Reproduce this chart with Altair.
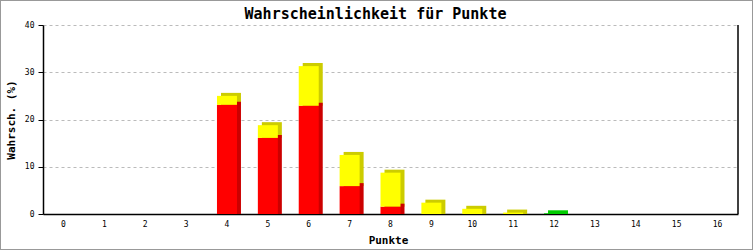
import altair as alt
import pandas as pd

# ---- data ----
punkte = [str(i) for i in range(17)]
rot = [0, 0, 0, 0, 23.1, 16.1, 22.9, 5.9, 1.55, 0, 0, 0, 0, 0, 0, 0, 0]
gelb = [0, 0, 0, 0, 1.9, 2.7, 8.4, 6.6, 7.2, 2.4, 1.1, 0.3, 0, 0, 0, 0, 0]
gruen = [0, 0, 0, 0, 0, 0, 0, 0, 0, 0, 0, 0, 0.15, 0, 0, 0, 0]
y_ticks = [0, 10, 20, 30, 40]
serien = ["rot", "gelb", "gruen"]

rows = []
for p, r, g, gr in zip(punkte, rot, gelb, gruen):
    base = 0.0
    for s, v in zip(serien, (r, g, gr)):
        if v > 0:
            rows.append({"Punkte": p, "serie": s, "start": base, "end": base + v})
            base += v
df = pd.DataFrame(rows)

W, H = 695, 189
FONT = "DejaVu Sans Mono"

x_enc = alt.X(
    "Punkte:O",
    sort=punkte,
    scale=alt.Scale(domain=punkte, paddingInner=0, paddingOuter=0),
    axis=alt.Axis(
        title="Punkte", ticks=False, labelAngle=0, labelPadding=6,
        titleX=345, titleY=26, titleBaseline="middle", titleAlign="center",
        domainColor="black", domainWidth=1.5,
    ),
)
y_enc = alt.Y(
    "end:Q",
    scale=alt.Scale(domain=[0, 40], nice=False),
    axis=alt.Axis(
        title="Wahrsch. (%)", values=y_ticks, grid=True, tickSize=5,
        labelPadding=4, titleX=-32, titleY=H / 2, titleAngle=-90,
        titleBaseline="middle", titleAlign="center",
        domainColor="black", domainWidth=1.5, tickColor="black",
    ),
)

base = alt.Chart(df)

# depth faces (drawn behind, shifted right/up); upper segments drawn first
back = base.mark_bar(width=20, xOffset=4, yOffset=-3).encode(
    x=x_enc,
    y=y_enc,
    y2="start:Q",
    order=alt.Order("start:Q", sort="descending"),
    color=alt.Color("serie:N", legend=None,
                    scale=alt.Scale(domain=serien, range=["#cc0000", "#cccc00", "#00cc00"])),
)

front = base.mark_bar(width=20).encode(
    x=x_enc,
    y=y_enc,
    y2="start:Q",
    color=alt.Color("serie:N", legend=None,
                    scale=alt.Scale(domain=serien, range=["#ff0000", "#ffff00", "#00cc00"])),
)

one = alt.Chart(pd.DataFrame({"a": [0]}))
right_line = one.mark_rule(color="black", strokeWidth=1.5).encode(
    x=alt.value(W), y=alt.value(0), y2=alt.value(H)
)
frame = one.mark_rect(filled=False, stroke="#999999", strokeWidth=2).encode(
    x=alt.value(-43), x2=alt.value(710), y=alt.value(-25), y2=alt.value(225)
)
title = one.mark_text(
    text="Wahrscheinlichkeit für Punkte", font=FONT, fontSize=15, fontWeight="bold",
    align="center", baseline="middle", color="black",
).encode(x=alt.value(332.5), y=alt.value(-11))

chart = (
    alt.layer(back, front, right_line, frame, title)
    .resolve_scale(color="independent")
    .properties(width=W, height=H, autosize=alt.AutoSizeParams(type="none"),
                padding={"left": 43, "top": 25, "right": 15, "bottom": 36},
                background="white")
    .configure_view(stroke=None)
    .configure_axis(
        labelFont=FONT, labelFontSize=8, labelColor="black",
        titleFont=FONT, titleFontSize=11, titleFontWeight="bold", titleColor="black",
        gridColor="#bbbbbb", gridDash=[3, 3], gridWidth=1,
    )
)

chart.save("out.html", embed_options={"renderer": "svg", "actions": False})
